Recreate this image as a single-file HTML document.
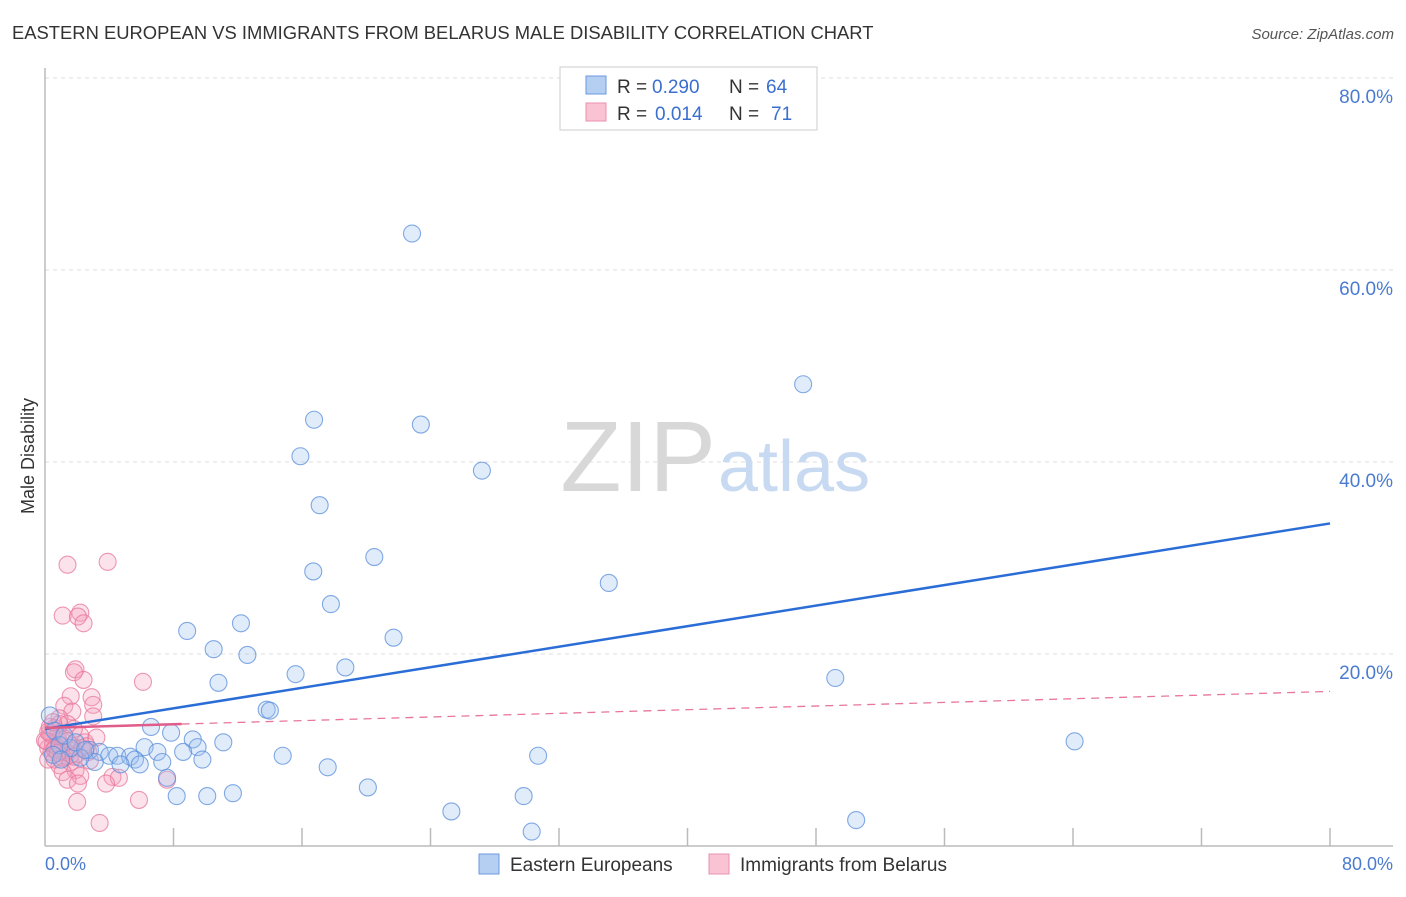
<!DOCTYPE html>
<html><head><meta charset="utf-8"><style>
body{margin:0;background:#fff;font-family:"Liberation Sans",sans-serif}
svg text{font-family:"Liberation Sans",sans-serif}
</style></head><body>
<svg id="chart" width="1406" height="892" xmlns="http://www.w3.org/2000/svg">
<text x="12" y="39" font-size="18.4" fill="#333">EASTERN EUROPEAN VS IMMIGRANTS FROM BELARUS MALE DISABILITY CORRELATION CHART</text>
<text x="1394" y="39" font-size="15" fill="#555" font-style="italic" text-anchor="end">Source: ZipAtlas.com</text>
<g id="grid"></g>
<text x="716" y="491" font-size="100" fill="#d8d8d8" text-anchor="end" font-family="Liberation Serif">ZIP</text>
<text x="718" y="491" font-size="72" fill="#c8daf2">atlas</text>
<line x1="45" y1="68" x2="45" y2="846" stroke="#bbb" stroke-width="1.5"/>
<line x1="45" y1="846" x2="1393" y2="846" stroke="#bbb" stroke-width="1.5"/>
<text transform="translate(34,456) rotate(-90)" font-size="18" fill="#333" text-anchor="middle">Male Disability</text>
<text x="45" y="870" font-size="18" fill="#4a7bd0">0.0%</text>
<text x="1393" y="870" font-size="18" fill="#4a7bd0" text-anchor="end">80.0%</text>
<g id="marks"></g>
<g>
<rect x="560" y="67" width="257" height="63" fill="#fff" stroke="#ccc"/>
<rect x="586" y="76" width="20" height="18" fill="#b5cff2" stroke="#6b9ae0"/>
<rect x="586" y="103" width="20" height="18" fill="#f9c3d3" stroke="#e991ae"/>
<text x="617" y="93" font-size="19" fill="#333">R =</text>
<text x="652" y="93" font-size="19" fill="#3a6fd0">0.290</text>
<text x="729" y="93" font-size="19" fill="#333">N =</text>
<text x="766" y="93" font-size="19" fill="#3a6fd0">64</text>
<text x="617" y="120" font-size="19" fill="#333">R =</text>
<text x="655" y="120" font-size="19" fill="#3a6fd0">0.014</text>
<text x="729" y="120" font-size="19" fill="#333">N =</text>
<text x="771" y="120" font-size="19" fill="#3a6fd0">71</text>
</g>
<g>
<rect x="479" y="854" width="20" height="20" fill="#b5cff2" stroke="#6b9ae0"/>
<text x="510" y="871" font-size="19" fill="#333">Eastern Europeans</text>
<rect x="709" y="854" width="20" height="20" fill="#f9c3d3" stroke="#e991ae"/>
<text x="740" y="871" font-size="19" fill="#333">Immigrants from Belarus</text>
</g>
</svg>
<script>
const yTicks=[20,40,60,80];
const yTickLabels=["20.0%","40.0%","60.0%","80.0%"];
const xTicks=[8,16,24,32,40,48,56,64,72,80];
const blueX=[22.85,47.2,16.75,23.4,15.9,27.2,17.1,20.5,16.7,35.1,17.8,8.85,12.2,21.7,10.5,12.6,18.7,15.6,49.2,10.8,13.8,14.0,6.6,7.85,9.2,11.1,64.1,6.2,9.5,7.0,8.6,14.8,30.7,9.8,7.3,2.8,3.4,4.0,4.5,5.3,5.6,3.1,4.7,5.9,17.6,2.2,20.1,11.7,8.2,10.1,29.8,25.3,50.5,30.3,7.6,0.3,0.6,0.9,1.6,1.2,1.9,0.5,1.0,2.5];
const blueY=[63.8,48.1,44.4,43.9,40.6,39.1,35.5,30.1,28.6,27.4,25.2,22.4,23.2,21.7,20.5,19.9,18.6,17.9,17.5,17.0,14.2,14.1,12.4,11.8,11.1,10.8,10.9,10.3,10.3,9.8,9.8,9.4,9.4,9.0,8.75,10.0,9.8,9.4,9.4,9.3,9.0,8.75,8.5,8.5,8.2,9.2,6.1,5.5,5.2,5.2,5.2,3.6,2.7,1.5,7.1,13.6,12.0,10.5,10.2,11.5,10.8,9.5,9.0,10.0];
const pinkX=[1.4,3.9,1.1,2.2,2.05,2.4,1.9,1.8,2.4,6.1,1.6,2.9,3.0,1.2,3.0,1.7,0.9,1.4,0.6,0.3,2.2,0.8,1.0,0.2,1.7,0.4,1.3,0.6,1.6,0.9,1.9,1.1,2.2,1.4,4.2,4.6,3.8,7.6,2.05,2.0,5.85,3.4,0.8,0,0.2,2.5,2.7,1.3,1.8,0.9,0.5,1.5,2.0,0.3,1.1,0.7,1.2,2.3,0.4,1.0,1.6,0.1,2.6,0.6,1.4,0.2,1.8,0.8,3.2,2.8,0.5];
const pinkY=[29.3,29.6,24,24.3,23.9,23.2,18.4,18.1,17.3,17.1,15.6,15.5,14.7,14.6,13.5,14.0,13.3,12.7,12.3,11.8,11.5,11.0,10.5,10.2,10.4,9.8,9.4,9.0,8.75,8.4,7.9,7.7,7.3,6.9,7.2,7.1,6.5,6.9,6.5,4.6,4.8,2.4,11.4,11,9,10.8,9.8,9.8,12.2,12.7,10.6,10.0,9.6,12.4,9.2,10.4,11.2,10.2,11.6,9.9,9.5,10.9,10.4,10.1,10.9,11.9,9.3,9.7,11.3,8.9,12.9];
const blueTrend=[12.2,33.6];
const pinkTrend=[12.3,16.1];
const pinkSolidEnd=8.5;
const NS="http://www.w3.org/2000/svg";
const xs=v=>45+v*(1285/80);
const ys=v=>846-v*9.6;
const grid=document.getElementById('grid'),marks=document.getElementById('marks');
yTicks.forEach((t,i)=>{
const l=document.createElementNS(NS,'line');
l.setAttribute('x1',45);l.setAttribute('x2',1393);l.setAttribute('y1',ys(t));l.setAttribute('y2',ys(t));
l.setAttribute('stroke','#ddd');l.setAttribute('stroke-dasharray','4,4');


grid.appendChild(l);
const tx=document.createElementNS(NS,'text');
tx.setAttribute('x',1393);tx.setAttribute('y',ys(t)+25);tx.setAttribute('text-anchor','end');
tx.setAttribute('font-size','19');tx.setAttribute('fill','#4a7bd0');tx.textContent=yTickLabels[i];


grid.appendChild(tx);
});
xTicks.forEach(t=>{
const l=document.createElementNS(NS,'line');
l.setAttribute('x1',xs(t));l.setAttribute('x2',xs(t));l.setAttribute('y1',828);l.setAttribute('y2',846);
l.setAttribute('stroke','#bbb');l.setAttribute('stroke-width','1.5');


grid.appendChild(l);
});
function dots(X,Y,fill,stroke,name){
X.forEach((x,i)=>{
const c=document.createElementNS(NS,'circle');
c.setAttribute('cx',xs(x));c.setAttribute('cy',ys(Y[i]));c.setAttribute('r',8.5);
c.setAttribute('fill',fill);c.setAttribute('fill-opacity','0.3');c.setAttribute('stroke',stroke);c.setAttribute('stroke-opacity','0.75');c.setAttribute('stroke-width','1.1');


marks.appendChild(c);
});
}
dots(pinkX,pinkY,'#f5a0bc','#e7769a','belarus-point');
dots(blueX,blueY,'#9cc0ee','#5a8edb','eastern-european-point');
function line(x1,v1,x2,v2,color,w,dash,name){
const l=document.createElementNS(NS,'line');
l.setAttribute('x1',xs(x1));l.setAttribute('y1',ys(v1));l.setAttribute('x2',xs(x2));l.setAttribute('y2',ys(v2));
l.setAttribute('stroke',color);l.setAttribute('stroke-width',w);if(dash)l.setAttribute('stroke-dasharray',dash);


marks.appendChild(l);
}
const pv=x=>pinkTrend[0]+(pinkTrend[1]-pinkTrend[0])*x/80;
line(0,blueTrend[0],80,blueTrend[1],'#2a6dd6',2.5,null,'eastern-european-trendline');
line(pinkSolidEnd,pv(pinkSolidEnd),80,pinkTrend[1],'#e7769a',1.3,'8,6','belarus-trendline-dashed');
line(0,pinkTrend[0],pinkSolidEnd,pv(pinkSolidEnd),'#e05c8a',2.5,null,'belarus-trendline');
</script>
</body></html>
